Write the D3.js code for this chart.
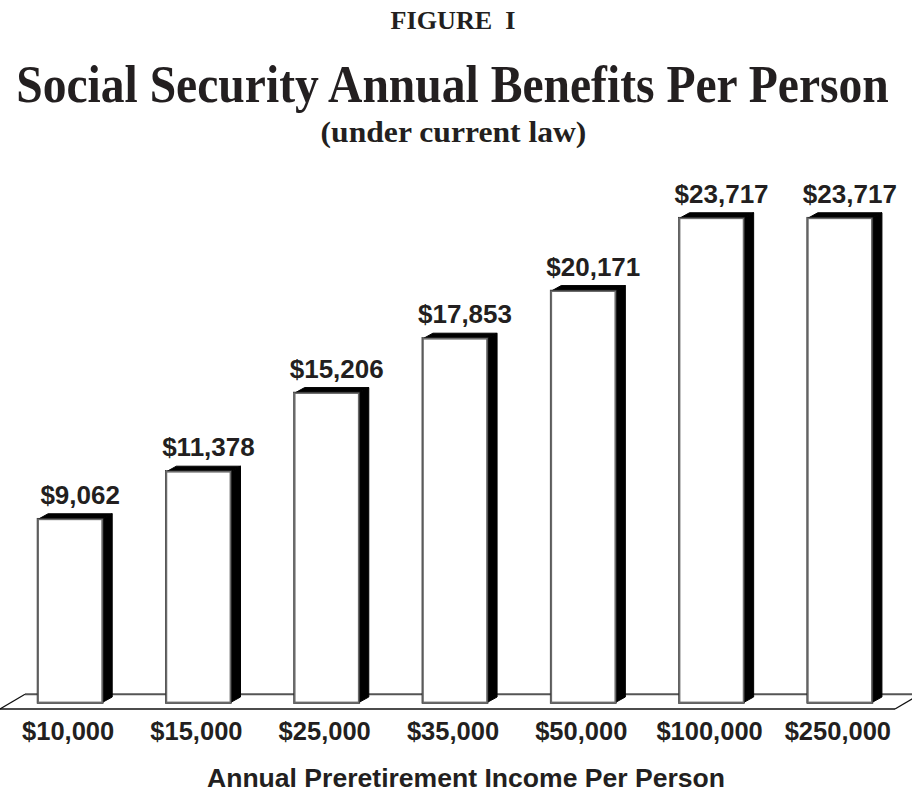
<!DOCTYPE html>
<html>
<head>
<meta charset="utf-8">
<script src="https://cdn.jsdelivr.net/npm/d3@7"></script>
<style>
  html, body { margin: 0; padding: 0; background: #fff; }
  svg { display: block; }
</style>
</head>
<body>
<svg id="chart" width="912" height="792"></svg>
<script>
// ---- data ----
const categories = ["$10,000", "$15,000", "$25,000", "$35,000", "$50,000", "$100,000", "$250,000"];
const benefits = [9062, 11378, 15206, 17853, 20171, 23717, 23717];
const valueLabels = ["$9,062", "$11,378", "$15,206", "$17,853", "$20,171", "$23,717", "$23,717"];
const figureLabel = "FIGURE  I";
const titleText = "Social Security Annual Benefits Per Person";
const subtitleText = "(under current law)";
const xAxisTitle = "Annual Preretirement Income Per Person";

const data = categories.map((c, i) => ({ cat: c, value: benefits[i], label: valueLabels[i] }));

const W = 912, H = 792;
const ink = "#231f20";
const svg = d3.select("#chart");

// scales
const x = d3.scaleBand().domain(categories).range([6, 904]).paddingInner(0.5).paddingOuter(0.25);
const y = d3.scaleLinear().domain([0, 25000]).range([705.4, 191.9]);

const depthX = 10, depthY = 5.5;
const barBottom = 702.5;

// ---- titles ----
function condensed(txt, cx, cy, size, targetW, family, weight) {
  const g = svg.append("g").attr("transform", `translate(${cx},${cy})`);
  const t = g.append("text")
    .attr("text-anchor", "middle")
    .attr("font-family", family)
    .attr("font-weight", weight).attr("font-size", size)
    .attr("fill", ink)
    .style("white-space", "pre")
    .text(txt);
  const w = t.node().getComputedTextLength();
  if (w > 0) t.attr("transform", `scale(${targetW / w},1)`);
  return t;
}
const serif = "Liberation Serif, 'Times New Roman', serif";
const sans = "Liberation Sans, Arial, sans-serif";

condensed(figureLabel, 453, 29, 26, 125, serif, "bold");
condensed(titleText, 452.5, 102, 52, 873, serif, "bold");
condensed(subtitleText, 453.5, 141.5, 29, 266, serif, "bold");

// ---- floor ----
const floorFrontY = 709, floorBackY = 694.3;
const floorLeft = 0, floorRight = 895, floorDX = 25;
const floor = svg.append("g");
floor.append("line")
  .attr("x1", floorLeft + floorDX).attr("y1", floorBackY)
  .attr("x2", floorRight + floorDX).attr("y2", floorBackY)
  .attr("stroke", "#555").attr("stroke-width", 2);
floor.append("line")
  .attr("x1", floorLeft).attr("y1", floorFrontY)
  .attr("x2", floorRight).attr("y2", floorFrontY)
  .attr("stroke", "#111").attr("stroke-width", 1.6);
floor.append("line")
  .attr("x1", floorLeft).attr("y1", floorFrontY)
  .attr("x2", floorLeft + floorDX).attr("y2", floorBackY)
  .attr("stroke", "#111").attr("stroke-width", 1.3);
floor.append("line")
  .attr("x1", floorRight).attr("y1", floorFrontY)
  .attr("x2", floorRight + floorDX).attr("y2", floorBackY)
  .attr("stroke", "#111").attr("stroke-width", 1.3);

// ---- bars ----
const bars = svg.append("g").selectAll("g").data(data).join("g");
const bw = x.bandwidth();

// side face
bars.append("path")
  .attr("d", d => {
    const x0 = x(d.cat) + bw, yt = y(d.value);
    return `M${x0},${yt} L${x0 + depthX},${yt - depthY} L${x0 + depthX},${barBottom - depthY} L${x0},${barBottom} Z`;
  })
  .attr("fill", "#000").attr("stroke", "#000").attr("stroke-width", 1);

// top face
bars.append("path")
  .attr("d", d => {
    const x0 = x(d.cat), yt = y(d.value);
    return `M${x0},${yt} L${x0 + depthX},${yt - depthY} L${x0 + bw + depthX},${yt - depthY} L${x0 + bw},${yt} Z`;
  })
  .attr("fill", "#000").attr("stroke", "#000").attr("stroke-width", 1);

// front face
bars.append("rect")
  .attr("x", d => x(d.cat))
  .attr("y", d => y(d.value))
  .attr("width", bw)
  .attr("height", d => barBottom - y(d.value))
  .attr("fill", "#fff")
  .attr("stroke", "#6a6a6a").attr("stroke-width", 1.8);
bars.append("rect")
  .attr("x", d => x(d.cat) - 1)
  .attr("y", d => y(d.value) - 1)
  .attr("width", bw + 2)
  .attr("height", d => barBottom - y(d.value) + 2)
  .attr("fill", "none")
  .attr("stroke", "#222").attr("stroke-width", 0.6);

// value labels
bars.append("text")
  .attr("x", d => x(d.cat) + bw / 2 + depthX)
  .attr("y", d => y(d.value) - depthY - 10)
  .attr("text-anchor", "middle")
  .attr("font-family", sans)
  .attr("font-weight", "bold").attr("font-size", 26)
  .attr("fill", ink)
  .text(d => d.label);

// ---- category axis labels ----
svg.append("g").selectAll("text").data(categories).join("text")
  .attr("x", d => x(d) + bw / 2 - 2)
  .attr("y", 740)
  .attr("text-anchor", "middle")
  .attr("font-family", sans)
  .attr("font-weight", "bold").attr("font-size", 25.5)
  .attr("fill", ink)
  .text(d => d);

svg.append("text")
  .attr("x", 466).attr("y", 786.5)
  .attr("text-anchor", "middle")
  .attr("font-family", sans)
  .attr("font-weight", "bold").attr("font-size", 26)
  .attr("fill", ink)
  .attr("textLength", 518).attr("lengthAdjust", "spacingAndGlyphs")
  .text(xAxisTitle);
</script>
</body>
</html>
